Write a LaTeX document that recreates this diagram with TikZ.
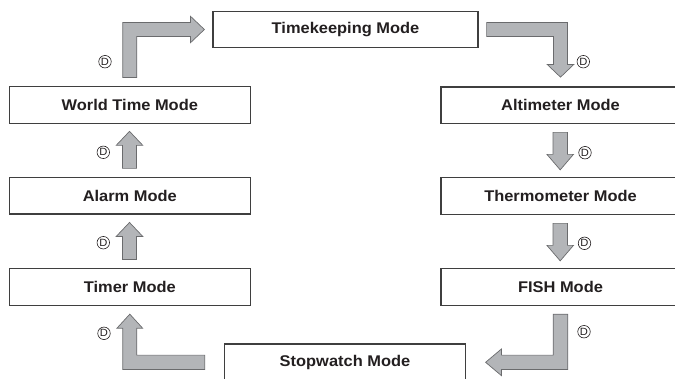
\documentclass[tikz,border=0pt]{standalone}
\usepackage{fontspec}
\setmainfont{Liberation Sans}[FakeStretch=1.06]
\usetikzlibrary{calc}
\definecolor{boxline}{HTML}{3F3F3F}
\definecolor{arrfill}{HTML}{B3B5B8}
\definecolor{arrline}{HTML}{6A6B6D}
\definecolor{txt}{HTML}{231F20}
\tikzset{
  modebox/.style={draw=boxline, line width=1.2pt, fill=white, minimum width=241pt,
    minimum height=36.5pt, inner sep=0pt, text=txt, font=\fontsize{15.5}{18}\selectfont\bfseries},
  blockarrow/.style={draw=arrline, fill=arrfill, line width=0.7pt, line join=miter},
  dlab/.style={circle, draw=txt, line width=0.6pt, minimum size=12.5pt, inner sep=0pt,
    text=txt, font=\fontsize{10.5}{10.5}\selectfont},
  uparr/.pic={\draw[blockarrow] (-7,0) -- (-7,-23) -- (-13.3,-23) -- (0,-37) -- (13.3,-23) -- (7,-23) -- (7,0) -- cycle;},
  downarr/.pic={\draw[blockarrow] (-7.2,0) -- (-7.2,22) -- (-13.3,22) -- (0,37.5) -- (13.3,22) -- (7.2,22) -- (7.2,0) -- cycle;}
}
\begin{document}
\begin{tikzpicture}[x=1pt,y=-1pt]
\useasboundingbox (0,0) rectangle (675,378);
\begin{scope}
\clip (0,0) rectangle (675,378);
% boxes
\node[modebox, minimum width=265pt] (tk) at (345.5,29.5) {Timekeeping Mode};
\node[modebox] (ws) at (129.8,105) {World Time Mode};
\node[modebox] (al) at (129.8,195.7) {Alarm Mode};
\node[modebox] (ti) at (129.8,287) {Timer Mode};
\node[modebox, minimum width=239pt] (alt) at (560.5,105.3) {Altimeter Mode};
\node[modebox, minimum width=239pt] (th) at (560.5,196) {Thermometer Mode};
\node[modebox, minimum width=239pt] (fi) at (560.5,287) {FISH Mode};
\node[modebox, minimum width=240.6pt] (sw) at (345,362.3) {Stopwatch Mode};

% corner coordinates
\coordinate (c1) at (ws.north |- tk.west);
\coordinate (c2) at (alt.north |- tk.east);
\coordinate (c3) at (fi.south |- sw.east);
\coordinate (c4) at (ti.south |- sw.west);

% L-shaped arrows
\draw[blockarrow] ($(ws.north)+(-7,-8.7)$) -- ($(c1)+(-7,-7)$) -- ($(tk.west)+(-22,-7)$)
  -- ($(tk.west)+(-22,-13.3)$) -- ($(tk.west)+(-8,0)$) -- ($(tk.west)+(-22,13.3)$)
  -- ($(tk.west)+(-22,7)$) -- ($(c1)+(7,7)$) -- ($(ws.north)+(7,-8.7)$) -- cycle;
\draw[blockarrow] ($(tk.east)+(8,-7)$) -- ($(c2)+(7,-7)$) -- ($(alt.north)+(7,-22)$)
  -- ($(alt.north)+(13.3,-22)$) -- ($(alt.north)+(0,-9.3)$) -- ($(alt.north)+(-13.3,-22)$)
  -- ($(alt.north)+(-7,-22)$) -- ($(c2)+(-7,7)$) -- ($(tk.east)+(8,7)$) -- cycle;
\draw[blockarrow] ($(fi.south)+(-7.3,8.3)$) -- ($(c3)+(-7.3,-7.2)$) -- ($(sw.east)+(35.5,-7.2)$)
  -- ($(sw.east)+(35.5,-13.3)$) -- ($(sw.east)+(19.7,0)$) -- ($(sw.east)+(35.5,13.3)$)
  -- ($(sw.east)+(35.5,7.2)$) -- ($(c3)+(7.3,7.2)$) -- ($(fi.south)+(7.3,8.3)$) -- cycle;
\draw[blockarrow] ($(sw.west)+(-19.4,-7.2)$) -- ($(c4)+(7,-7.2)$) -- ($(ti.south)+(7,22.3)$)
  -- ($(ti.south)+(12.8,22.3)$) -- ($(ti.south)+(0,8.3)$) -- ($(ti.south)+(-12.8,22.3)$)
  -- ($(ti.south)+(-7,22.3)$) -- ($(c4)+(-7,7.2)$) -- ($(sw.west)+(-19.4,7.2)$) -- cycle;

% straight arrows
\pic at ($(al.north)+(-0.3,-8.5)$) {uparr};
\pic at ($(ti.north)+(-0.3,-8.7)$) {uparr};
\pic at ($(alt.south)+(-0.3,8.2)$) {downarr};
\pic at ($(th.south)+(-0.3,8.5)$) {downarr};

% D labels
\node[dlab] (d1) at (105,61.7) {D};
\node[dlab] (d2) at (583.3,61.7) {D};
\node[dlab] (d3) at (585,152.7) {D};
\node[dlab] (d4) at (584.5,243.3) {D};
\node[dlab] (d5) at (584,331.7) {D};
\node[dlab] (d6) at (104,333.3) {D};
\node[dlab] (d7) at (103.3,152.3) {D};
\node[dlab] (d8) at (103.3,242.7) {D};
\end{scope}
\end{tikzpicture}
\end{document}
